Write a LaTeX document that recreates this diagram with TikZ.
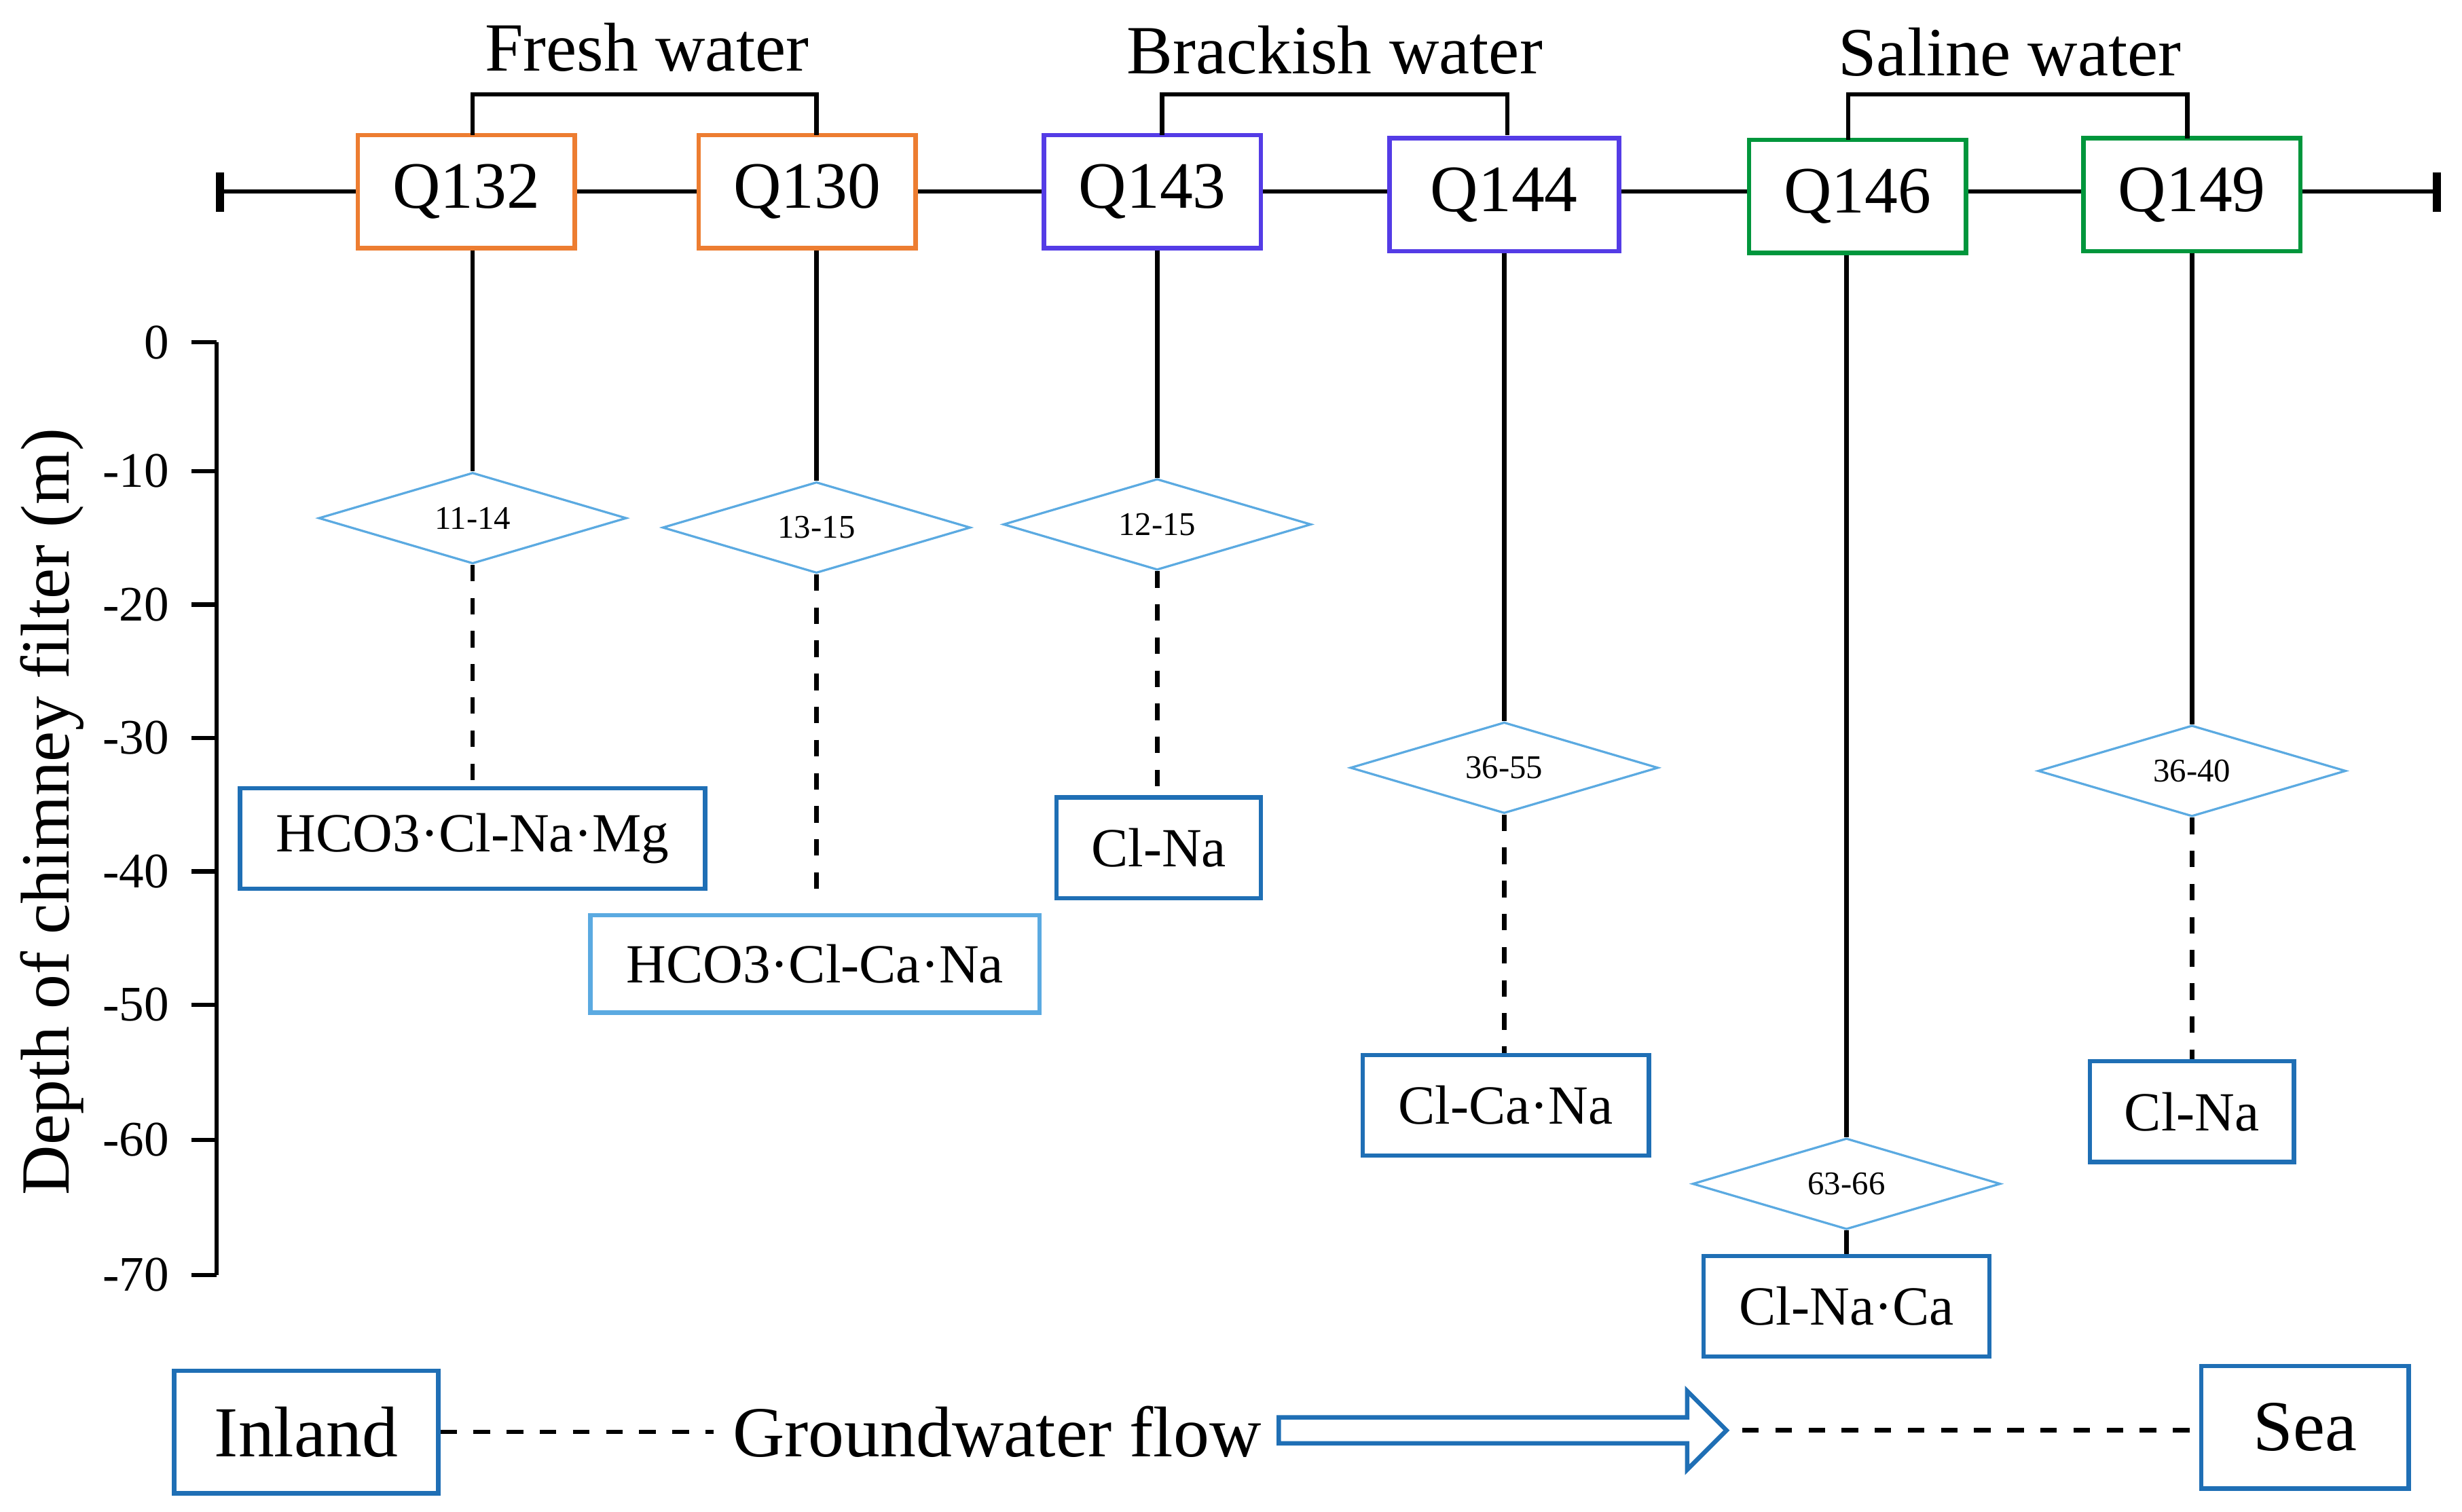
\documentclass[tikz,border=0pt]{standalone}
\usepackage{fontspec}
\setmainfont{Liberation Serif}
\usetikzlibrary{shapes,arrows,positioning,calc}
\definecolor{qorange}{RGB}{237,125,49}
\definecolor{qpurple}{RGB}{84,60,230}
\definecolor{qgreen}{RGB}{0,150,60}
\definecolor{cblue}{RGB}{31,111,181}
\definecolor{lblue}{RGB}{91,170,225}
\tikzset{
	well/.style = {draw, thick, rectangle, minimum height=0.72cm, minimum width=1.38cm, font=\fontsize{12}{14}\selectfont},
	depth/.style = {draw=lblue, diamond, aspect=3.4, inner sep=0pt, minimum width=1.96cm, minimum height=0.58cm, font=\fontsize{6}{7}\selectfont},
	chem/.style = {draw=cblue, thick, rectangle, minimum height=0.64cm, font=\fontsize{10}{12}\selectfont},
	ends/.style = {draw=cblue, thick, rectangle, minimum height=0.78cm, font=\fontsize{13}{15}\selectfont},
	tick/.style = {anchor=east, font=\fontsize{9}{11}\selectfont},
	head/.style = {font=\fontsize{12.5}{14}\selectfont}
}
\begin{document}
\begin{tikzpicture}[x=0.01cm,y=-0.01cm]
			\useasboundingbox (0,0) rectangle (1568,963);
			% top line
			\draw[thick] (140,122) -- (1552,122);
			\draw[line width=1.5pt] (140,110) -- (140,135);
			\draw[line width=1.5pt] (1552,110) -- (1552,135);
			% wells
			\node[well, draw=qorange, fill=white] (q132) at (297,122){Q132};
			\node[well, draw=qorange, fill=white] (q130) at (514,122){Q130};
			\node[well, draw=qpurple, fill=white] (q143) at (734,122){Q143};
			\node[well, draw=qpurple, fill=white, minimum width=1.46cm] (q144) at (958,124){Q144};
			\node[well, draw=qgreen, fill=white] (q146) at (1183,125){Q146};
			\node[well, draw=qgreen, fill=white] (q149) at (1396,124){Q149};
			% groups
			\draw[thick] (301,86) -- (301,60) -- (520,60) -- (520,86);
			\draw[thick] (740,86) -- (740,60) -- (960,60) -- (960,86);
			\draw[thick] (1177,89) -- (1177,60) -- (1393,60) -- (1393,88);
			\node[head] (fresh) at (412,30){Fresh water};
			\node[head] (brack) at (850,32){Brackish water};
			\node[head] (saline) at (1280,33){Saline water};
			% depth axis
			\draw[thick] (138,218) -- (138,812);
			\foreach \d/\y in {0/218,-10/300,-20/385,-30/470,-40/555,-50/640,-60/726,-70/812}{
				\draw[thick] (122,\y) -- (138,\y);
				\node[tick] at (120,\y){\d};
			}
			\node[rotate=90, font=\fontsize{12.5}{14}\selectfont] (ylab) at (33,517){Depth of chimney filter (m)};
			% diamonds
			\node[depth] (d132) at (301,330){11-14};
			\node[depth] (d130) at (520,336){13-15};
			\node[depth] (d143) at (737,334){12-15};
			\node[depth] (d144) at (958,489){36-55};
			\node[depth] (d146) at (1176,754){63-66};
			\node[depth] (d149) at (1396,491){36-40};
			% water types
			\node[chem, minimum width=2.96cm] (c132) at (301,534){HCO3·Cl-Na·Mg};
			\node[chem, draw=lblue, minimum width=2.86cm, minimum height=0.62cm] (c130) at (519,614){HCO3·Cl-Ca·Na};
			\node[chem, minimum width=1.3cm] (c143) at (738,540){Cl-Na};
			\node[chem, minimum width=1.82cm] (c144) at (959,704){Cl-Ca·Na};
			\node[chem, minimum width=1.82cm] (c146) at (1176,832){Cl-Na·Ca};
			\node[chem, minimum width=1.3cm] (c149) at (1396,708){Cl-Na};
			% links
			\draw[thick] (q132.south -| d132) -- (d132.north);
			\draw[thick] (q130.south -| d130) -- (d130.north);
			\draw[thick] (q143.south -| d143) -- (d143.north);
			\draw[thick] (q144.south -| d144) -- (d144.north);
			\draw[thick] (q146.south -| d146) -- (d146.north);
			\draw[thick] (q149.south) -- (d149.north);
			\draw[thick, dashed] (d132.south) -- (c132.north -| d132);
			\draw[thick, dashed] (d130.south) -- ($(c130.north -| d130)+(0,-11)$);
			\draw[thick, dashed] (d143.south) -- (c143.north -| d143);
			\draw[thick, dashed] (d144.south) -- (c144.north -| d144);
			\draw[thick] (d146.south) -- (c146.north);
			\draw[thick, dashed] (d149.south) -- (c149.north);
			% flow
			\node[ends, minimum width=1.68cm] (inland) at (195,912){Inland};
			\node[ends, minimum width=1.32cm] (sea) at (1468,909){Sea};
			\node[head, font=\fontsize{13}{15}\selectfont] (flow) at (635,912){Groundwater flow};
			\node[single arrow, draw=cblue, thick, minimum height=2.85cm, minimum width=0.5cm, single arrow head extend=0.1cm, inner sep=1pt, anchor=west] (arr) at (813,911){};
			\draw[thick, dashed] (inland.east) -- (flow.west);
			\draw[thick, dashed] (arr.tip) ++(8,0) -- (sea.west |- arr.tip);
\end{tikzpicture}
\end{document}
